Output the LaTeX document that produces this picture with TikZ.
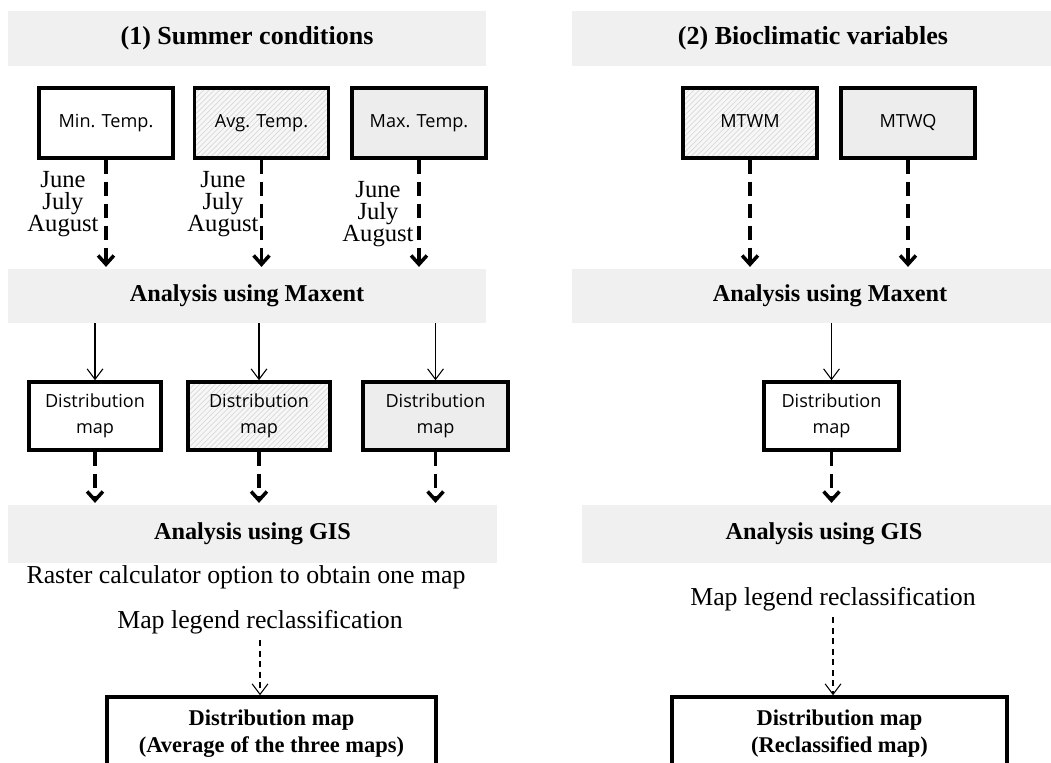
\documentclass[tikz,border=0pt]{standalone}
\usepackage{fontspec}
\setmainfont{Liberation Serif}
\newfontfamily\boxfont{Open Sans}
\usetikzlibrary{arrows.meta,positioning,patterns}

\begin{document}
\begin{tikzpicture}[
  x=0.02cm, y=-0.02cm,
  banner/.style={fill=black!6, minimum height=1.12cm, inner sep=0pt, font=\fontsize{13.8}{16}\selectfont\bfseries},
  varbox/.style={draw, line width=2pt, minimum width=2.68cm, minimum height=1.4cm, inner sep=0pt, text height=0.75em, text depth=0.25em, font=\boxfont\fontsize{10.3}{12}\selectfont},
  mapbox/.style={draw, line width=2pt, minimum height=1.36cm, inner sep=0pt, align=center, font=\boxfont\fontsize{10.3}{14.5}\selectfont},
  hatch/.style={preaction={fill=black!3}, pattern=north east lines, pattern color=black!15},
  shade/.style={fill=black!7},
  months/.style={align=center, inner sep=0pt, font=\fontsize{14}{12.5}\selectfont},
  plain/.style={font=\fontsize{14.7}{16}\selectfont},
  result/.style={draw, line width=2pt, minimum height=1.46cm, align=center, font=\fontsize{12.8}{15}\selectfont\bfseries},
  dasharrow/.style={-{Straight Barb[length=5pt,width=9pt]}, line width=2pt, dash pattern=on 8pt off 4.5pt, shorten >=1pt},
  thinarrow/.style={-{Straight Barb[length=6pt,width=9pt]}, line width=0.6pt},
  thindash/.style={-{Straight Barb[length=6pt,width=9pt]}, line width=0.6pt, dash pattern=on 3.5pt off 2.5pt}
]
\useasboundingbox (0,0) rectangle (1051,763);
\clip (0,0) rectangle (1051,763);

% headings
\node[banner, minimum width=9.56cm, font=\fontsize{14.8}{16}\selectfont\bfseries] (sumT) at (247,38.5) {(1) Summer conditions};
\node[banner, minimum width=9.64cm, font=\fontsize{14.8}{16}\selectfont\bfseries] (bioT) at (813,38.5) {(2) Bioclimatic variables};

% input variables
\node[varbox] (minT) at (106,123) {Min. Temp.};
\node[varbox, hatch] (avgT) at (261.5,123) {Avg. Temp.};
\node[varbox, shade] (maxT) at (419,123) {Max. Temp.};
\node[varbox, hatch] (mtwm) at (750,123) {MTWM};
\node[varbox, shade] (mtwq) at (908,123) {MTWQ};

\node[months] (mon1) at (63,204) {June\\July\\August};
\node[months] (mon2) at (223,204) {June\\July\\August};
\node[months] (mon3) at (378,214) {June\\July\\August};

% maxent step
\node[banner, minimum width=9.56cm, minimum height=1.08cm] (mxL) at (247,296) {Analysis using Maxent};
\node[banner, minimum width=10.32cm, minimum height=1.08cm] (mxR) at (830,296) {Analysis using Maxent};

\node[mapbox, minimum width=2.64cm] (dm1) at (95,416) {Distribution\\map};
\node[mapbox, hatch, minimum width=2.84cm] (dm2) at (259,416) {Distribution\\map};
\node[mapbox, shade, minimum width=2.9cm] (dm3) at (435.5,416) {Distribution\\map};
\node[mapbox, minimum width=2.7cm] (dmR) at (831.5,416) {Distribution\\map};

% gis step
\node[banner, minimum width=9.78cm, minimum height=1.16cm] (gisL) at (252.5,534) {Analysis using GIS};
\node[banner, minimum width=9.68cm, minimum height=1.16cm] (gisR) at (824,534) {Analysis using GIS};

\node[plain] (raster) at (246,577) {Raster calculator option to obtain one map};
\node[plain] (legL) at (260,622) {Map legend reclassification};
\node[plain] (legR) at (833,599) {Map legend reclassification};

\node[result, minimum width=6.58cm] (avgmap) at (271.5,733.5) {Distribution map\\(Average of the three maps)};
\node[result, minimum width=6.7cm] (recmap) at (839.5,733.5) {Distribution map\\(Reclassified map)};

% connectors
\foreach \b in {minT,avgT,maxT}
  \draw[dasharrow] (\b.south) -- (\b.south |- mxL.north);
\foreach \b in {mtwm,mtwq}
  \draw[dasharrow] (\b.south) -- (\b.south |- mxR.north);
\foreach \b in {dm1,dm2,dm3} {
  \draw[thinarrow] (\b.north |- mxL.south) -- (\b.north);
  \draw[dasharrow] (\b.south) -- (\b.south |- gisL.north);
}
\draw[thinarrow] (dmR.north |- mxR.south) -- (dmR.north);
\draw[dasharrow] (dmR.south) -- (dmR.south |- gisR.north);
\draw[thindash] (legL.south) -- (legL.south |- avgmap.north);
\draw[thindash] (legR.south) -- (legR.south |- recmap.north);
\end{tikzpicture}
\end{document}
